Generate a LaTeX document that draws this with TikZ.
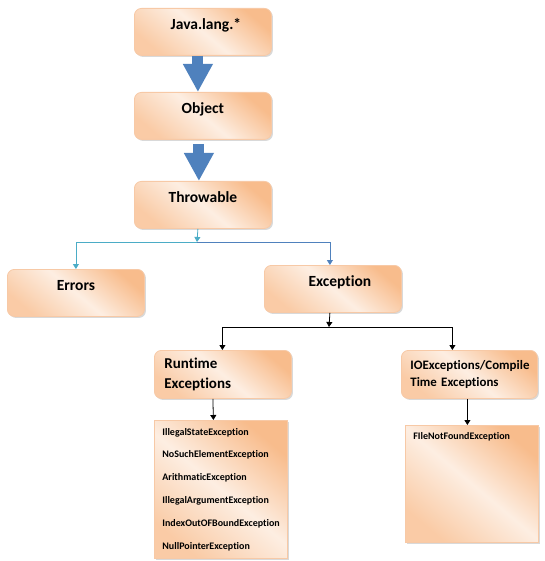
\documentclass[tikz,border=0pt]{standalone}
\usepackage{fontspec}
\setmainfont{Carlito}[Ligatures=NoCommon]
\usetikzlibrary{arrows.meta,shadows}
\definecolor{oDark}{HTML}{F8BC8C}
\definecolor{oLight}{HTML}{FDEEE2}
\definecolor{oEdge}{HTML}{F7C9A6}
\definecolor{blockblue}{HTML}{4F81BD}
\definecolor{lineCyan}{HTML}{4BACC6}
\tikzset{
  fillgrad/.style={shading=axis, top color=oDark, bottom color=oDark!70!oLight, middle color=oLight, shading angle=-40},
  basebox/.style={fillgrad, draw=oEdge, line width=0.8pt, anchor=north west,
    drop shadow={opacity=0.3, shadow xshift=1.5pt, shadow yshift=-1.5pt}},
  titlebox/.style={basebox, rounded corners=7pt, minimum width=137pt, inner xsep=0pt, inner ysep=5pt,
    text height=16pt, text depth=21pt, font=\fontsize{15.5}{18}\selectfont\bfseries},
  twobox/.style={basebox, rounded corners=7pt, minimum height=48pt, inner xsep=10pt, text width=117pt,
    align=left, font=\fontsize{15}{20}\selectfont\bfseries},
  listbox/.style={basebox, inner xsep=8pt, text width=117pt, align=left, minimum height=138pt,
    font=\fontsize{10}{22.8}\selectfont\bfseries},
  fnfbox/.style={basebox, inner xsep=8pt, text width=117pt, align=left, inner ysep=6pt,
    text height=8pt, text depth=97pt, font=\fontsize{10}{12}\selectfont\bfseries},
  blockarrow/.style={blockblue, line width=11pt, -{Triangle[length=28pt,width=28pt]}},
  cyanline/.style={lineCyan, line width=0.8pt, -{Triangle[length=5pt,width=6pt]}},
  blueline/.style={blockblue, line width=0.8pt, -{Triangle[length=5pt,width=6pt]}},
  blackline/.style={black, line width=0.8pt, -{Triangle[length=5pt,width=6pt]}},
}
\begin{document}
\begin{tikzpicture}[x=1pt,y=-1pt]
\useasboundingbox (0,0) rectangle (544,561);
\node[titlebox] (java) at (134,8) {\hspace*{6pt}Java.lang.*};
\node[titlebox] (object) at (134,92) {Object};
\node[titlebox] (throwable) at (134,181) {Throwable};
\node[titlebox] (errors) at (7,269) {Errors};
\node[titlebox] (exception) at (264,265) {\hspace*{14pt}Exception};
\node[twobox] (runtime) at (154,350) {Runtime\\Exceptions};
\node[twobox, text width=118pt, inner xsep=9pt, font=\fontsize{12.9}{17}\selectfont\bfseries] (io) at (401,350) {IOExceptions/Compile\\Time Exceptions};
\node[listbox] (list) at (154,420) {IllegalStateException\\NoSuchElementException\\ArithmaticException\\IllegalArgumentException\\IndexOutOFBoundException\\NullPointerException};
\node[fnfbox] (fnf) at (405,425) {FIleNotFoundException};

\draw[blockarrow, shorten >=0pt] ([xshift=-5pt]java.south) -- ([xshift=-5pt]object.north);
\draw[blockarrow, shorten <=4pt] ([xshift=-4pt]object.south) -- ([xshift=-4pt]throwable.north);

\coordinate (tj) at (197,242);
\draw[cyanline] ([xshift=-5pt]throwable.south) -- (tj);
\draw[cyanline] (tj) -| (errors.north);
\draw[blueline] (tj) -| ([xshift=-3pt]exception.north);

\coordinate (ej) at (329,327);
\draw[blackline] ([xshift=-3pt]exception.south) -- (ej);
\draw[blackline] (ej) -| ([xshift=-0.5pt]runtime.north);
\draw[blackline] (ej) -| ([xshift=-17pt]io.north);

\draw[blackline] ([xshift=-10pt]runtime.south) -- ([xshift=-7.5pt]list.north);
\draw[blackline] ([xshift=-2pt]io.south) -- ([xshift=-4.5pt]fnf.north);
\end{tikzpicture}
\end{document}
